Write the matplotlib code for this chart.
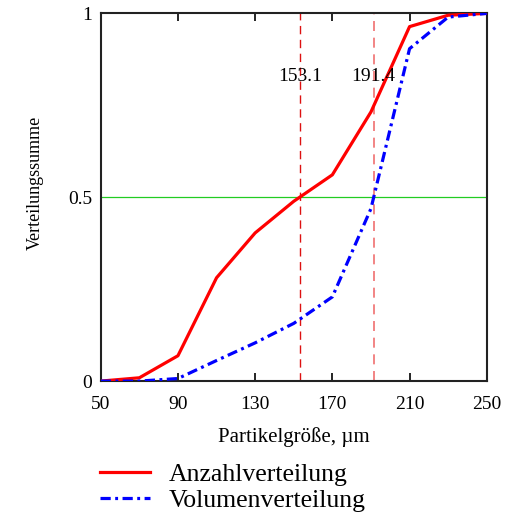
import matplotlib.pyplot as plt
from matplotlib.lines import Line2D

# Partikelgröße in µm
sizes = [50, 70, 90, 110, 130, 150, 170, 190, 210, 230, 250]
anzahl = [0.0, 0.009, 0.069, 0.281, 0.403, 0.489, 0.561, 0.732, 0.964, 0.995, 1.0]
volumen = [0.0, 0.0, 0.007, 0.056, 0.104, 0.157, 0.229, 0.469, 0.904, 0.99, 1.0]
medians = [153.1, 191.4]
median_labels = ["153.1", "191.4"]
xticks = [50, 90, 130, 170, 210, 250]

plt.rcParams['font.family'] = ['Liberation Serif', 'DejaVu Serif']

dashdot = (0, (3.2, 1.4, 0.9, 1.4))

fig = plt.figure(figsize=(5.14, 5.15), dpi=100)
ax = fig.add_axes([0.196, 0.260, 0.751, 0.714])

ax.axhline(0.5, color='#22cc22', lw=0.9, zorder=1)
ax.axvline(medians[0], color='#dd1111', lw=1.0, ls=(0, (6, 4)), zorder=1)
ax.axvline(medians[1], color='#f07070', lw=1.2, ls=(0, (6, 4)), zorder=1)

ax.plot(sizes, anzahl, color='red', lw=2.3, zorder=3)
ax.plot(sizes, volumen, color='blue', lw=2.3, ls=dashdot, zorder=3)

for m, lab in zip(medians, median_labels):
    ax.text(m, 0.828, lab, ha='center', va='center', fontsize=14)

ax.set_xlim(50, 250)
ax.set_ylim(0, 1)
ax.set_xticks(xticks)
ax.set_yticks([0, 0.5, 1])
ax.set_yticklabels(['0', '0.5', '1'])
ax.tick_params(axis='x', direction='in', length=6, width=1.2, top=True,
               labelsize=14, pad=11)
ax.tick_params(axis='y', length=0, labelsize=14, pad=6)
for s in ax.spines.values():
    s.set_linewidth(1.5)
    s.set_color('#222222')

ax.set_xlabel('Partikelgröße, µm', fontsize=15, labelpad=10)
ax.set_ylabel('Verteilungssumme', fontsize=13)
ax.yaxis.set_label_coords(-0.148, 0.538)

handles = [Line2D([], [], color='red', lw=2.3),
           Line2D([], [], color='blue', lw=2.3, ls=dashdot)]
fig.legend(handles, ['Anzahlverteilung', 'Volumenverteilung'],
           loc='upper left', bbox_to_anchor=(0.17, 0.125), frameon=False,
           fontsize=18.5, handlelength=1.95, labelspacing=0.08,
           borderpad=0, handletextpad=0.7)

fig.savefig('out.png', dpi=100)
